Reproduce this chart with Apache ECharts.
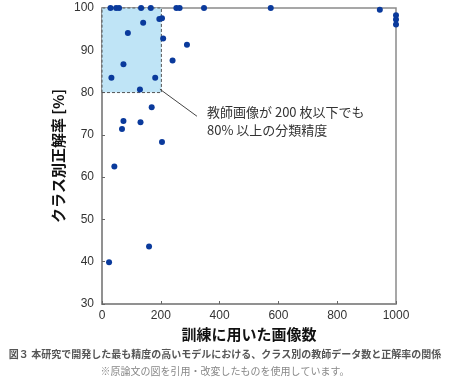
<!DOCTYPE html>
<html>
<head>
<meta charset="utf-8">
<script src="https://cdn.jsdelivr.net/npm/echarts@6/dist/echarts.min.js"></script>
<style>html,body{margin:0;padding:0;background:#fff}#c{width:450px;height:386px}</style>
</head>
<body>
<div id="c"></div>
<script>
// Data
const trainImages = [29, 48, 58, 133, 166, 253, 264, 347, 574, 945, 1000, 1000, 1000,
  195, 204, 140, 88, 208, 289, 240, 73, 32, 181, 129, 169, 73, 68, 131, 204, 42, 160, 24];
const accuracy = [100, 100, 100, 100, 100, 100, 100, 100, 100, 99.6, 98.3, 97.3, 96.1,
  97.4, 97.6, 96.5, 94.1, 92.8, 91.3, 87.6, 86.7, 83.5, 83.5, 80.7, 76.5, 73.3, 71.4, 73.0, 68.3, 62.5, 43.6, 39.9];
const xTicks = [0, 200, 400, 600, 800, 1000];
const yTicks = [30, 40, 50, 60, 70, 80, 90, 100];
const regionX = [0, 202];
const regionY = [80, 100];
const calloutFrom = [197, 80.8];
const calloutTo = [323, 74.4];
const annotation = ['教師画像が 200 枚以下でも', '80% 以上の分類精度'];
const xName = '訓練に用いた画像数';
const yName = 'クラス別正解率 [%]';
const caption1 = '図３ 本研究で開発した最も精度の高いモデルにおける、クラス別の教師データ数と正解率の関係';
const caption2 = '※原論文の図を引用・改変したものを使用しています。';

const points = trainImages.map((x, i) => [x, accuracy[i]]);
const latin = '"Liberation Sans", Arial, sans-serif';
const cjk = '"Noto Sans CJK JP", sans-serif';
const axisColor = '#8a8a8a';

const chart = echarts.init(document.getElementById('c'), null, {renderer: 'canvas'});
chart.setOption({
  animation: false,
  grid: {left: 102, right: 54, top: 8, bottom: 82, show: true, borderColor: axisColor, borderWidth: 1.5, backgroundColor: 'transparent'},
  xAxis: {
    type: 'value', min: xTicks[0], max: xTicks[xTicks.length - 1], interval: 200,
    splitLine: {show: false},
    axisLine: {show: true, lineStyle: {color: axisColor, width: 1.5}},
    axisTick: {show: true, inside: true, length: 3, lineStyle: {color: '#666'}},
    axisLabel: {color: '#333', fontSize: 12, fontFamily: latin, margin: 6, formatter: v => String(v)}
  },
  yAxis: {
    type: 'value', min: yTicks[0], max: yTicks[yTicks.length - 1], interval: 10,
    splitLine: {show: false},
    axisLine: {show: true, lineStyle: {color: axisColor, width: 1.5}},
    axisTick: {show: true, inside: true, length: 3, lineStyle: {color: '#666'}},
    axisLabel: {color: '#333', fontSize: 12, fontFamily: latin, margin: 8, formatter: v => String(v)}
  },
  series: [{
    type: 'scatter',
    data: points,
    symbolSize: 6,
    clip: false,
    itemStyle: {color: '#0a3a9c', opacity: 1},
    z: 5,
    markArea: {
      silent: true,
      itemStyle: {color: '#bfe4f6', opacity: 1, borderColor: '#555', borderWidth: 1, borderType: [3, 2]},
      data: [[{coord: [regionX[0], regionY[0]]}, {coord: [regionX[1], regionY[1]]}]]
    },
    markLine: {
      silent: true,
      symbol: ['none', 'none'],
      label: {show: false},
      lineStyle: {color: '#444', width: 1, type: 'solid'},
      data: [[{coord: calloutFrom}, {coord: calloutTo}]]
    }
  }],
  graphic: [
    {type: 'text', left: 207, top: 103, style: {text: annotation.join('\n'), font: '13px ' + cjk, fill: '#333', lineHeight: 18}},
    {type: 'text', x: 58, y: 156, rotation: Math.PI / 2, style: {text: yName, font: 'bold 15px ' + cjk, fill: '#111', align: 'center', verticalAlign: 'middle'}},
    {type: 'text', x: 249, y: 334, style: {text: xName, font: 'bold 15px ' + cjk, fill: '#111', align: 'center', verticalAlign: 'middle'}},
    {type: 'text', x: 225, y: 354, style: {text: caption1, font: 'bold 10px ' + cjk, fill: '#555', align: 'center', verticalAlign: 'middle'}},
    {type: 'text', x: 225, y: 371, style: {text: caption2, font: '10px ' + cjk, fill: '#888', align: 'center', verticalAlign: 'middle'}}
  ]
});
</script>
</body>
</html>
